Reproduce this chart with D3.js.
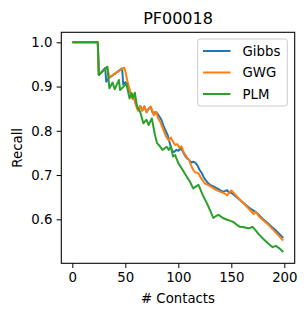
<!DOCTYPE html>
<html>
<head>
<meta charset="utf-8">
<script src="https://cdn.jsdelivr.net/npm/d3@7"></script>
<style>
  body { margin: 0; background: white; }
  text { font-family: "DejaVu Sans", sans-serif; }
</style>
</head>
<body>
<div id="graph"></div>
<script>
// recall vs number of contacts
const gibbs = [[0,1.0],[24,1.0],[25,0.926],[31,0.942],[32,0.911],[34,0.918],[36,0.922],[47,0.941],[48,0.905],[50,0.91],[52,0.905],
  [55,0.885],[57,0.872],[58,0.876],[60,0.86],[62,0.847],[64,0.856],[66,0.846],[68,0.855],[70,0.842],[72,0.85],[74,0.853],[76,0.84],
  [78,0.842],[80,0.84],[82,0.833],[84,0.825],[86,0.812],[88,0.8],[90,0.79],[92,0.772],[94,0.755],[96,0.752],[98,0.757],[100,0.755],
  [102,0.76],[104,0.755],[106,0.745],[108,0.738],[110,0.735],[112,0.728],[114,0.73],[116,0.728],[118,0.722],[120,0.712],[122,0.705],
  [124,0.695],[126,0.688],[128,0.682],[130,0.678],[134,0.673],[138,0.668],[142,0.662],[146,0.666],[148,0.66],[150,0.66],[152,0.656],
  [156,0.648],[160,0.64],[164,0.632],[168,0.624],[172,0.618],[176,0.61],[180,0.6],[184,0.592],[188,0.583],[192,0.575],[196,0.565],[199,0.558]];

const gwg = [[0,1.0],[24,1.0],[25,0.926],[33,0.944],[35,0.921],[49,0.943],[50,0.935],[52,0.912],[55,0.885],[57,0.872],[58,0.876],
  [60,0.858],[62,0.845],[64,0.856],[66,0.846],[68,0.855],[70,0.842],[72,0.85],[74,0.855],[77,0.835],[79,0.843],[81,0.828],[83,0.82],
  [85,0.808],[87,0.795],[89,0.785],[91,0.778],[93,0.785],[95,0.775],[97,0.768],[99,0.77],[101,0.762],[103,0.765],[105,0.752],[108,0.74],
  [110,0.735],[112,0.722],[114,0.712],[116,0.706],[119,0.704],[121,0.695],[123,0.688],[125,0.681],[128,0.678],[132,0.672],[136,0.666],
  [140,0.662],[144,0.658],[146,0.654],[148,0.66],[150,0.665],[152,0.66],[156,0.65],[160,0.64],[164,0.63],[168,0.62],[171,0.612],
  [173,0.617],[176,0.607],[180,0.598],[184,0.59],[188,0.58],[192,0.57],[196,0.56],[199,0.552]];

const plm = [[0,1.0],[24,1.0],[25,0.926],[33,0.945],[35,0.896],[38,0.909],[40,0.894],[44,0.915],[45,0.892],[51,0.907],[54,0.873],
  [56,0.885],[57,0.875],[59,0.886],[61,0.855],[64,0.843],[67,0.817],[70,0.825],[72,0.813],[75,0.828],[78,0.79],[80,0.772],[83,0.764],
  [85,0.757],[89,0.764],[91,0.757],[93,0.765],[95,0.742],[97,0.745],[100,0.727],[104,0.712],[108,0.696],[111,0.685],[114,0.67],
  [117,0.675],[119,0.678],[123,0.655],[127,0.636],[130,0.62],[133,0.603],[136,0.608],[138,0.61],[142,0.603],[146,0.599],[150,0.596],
  [152,0.594],[155,0.588],[158,0.583],[162,0.582],[166,0.58],[168,0.581],[170,0.583],[173,0.575],[176,0.566],[180,0.556],[184,0.547],
  [187,0.541],[189,0.537],[192,0.54],[195,0.535],[199,0.526]];

const seriesNames = ["Gibbs", "GWG", "PLM"];
const seriesColors = ["#1f77b4", "#ff7f0e", "#2ca02c"];
const xTicks = [0, 50, 100, 150, 200];
const yTicks = [0.6, 0.7, 0.8, 0.9, 1.0];

const width = 307, height = 316;
const margin = {left: 61.3, right: 12.3, top: 32.3, bottom: 52.7};
const tick = 4.67;

let svg = d3.select("#graph")
    .append("svg")
    .attr("width", width)
    .attr("height", height);

let x = d3.scaleLinear()
    .domain([-10.4, 209.8])
    .range([margin.left, width - margin.right]);

let y = d3.scaleLinear()
    .domain([0.5006, 1.0226])
    .range([height - margin.bottom, margin.top]);

let xAxis = svg.append("g")
    .attr("transform", `translate(0, ${height - margin.bottom})`)
    .call(d3.axisBottom(x).tickValues(xTicks).tickSize(tick).tickPadding(4.2).tickFormat(d3.format("d")));

let yAxis = svg.append("g")
    .attr("transform", `translate(${margin.left}, 0)`)
    .call(d3.axisLeft(y).tickValues(yTicks).tickSize(tick).tickPadding(4.2).tickFormat(d3.format(".1f")));

[xAxis, yAxis].forEach(function(a) {
    a.select(".domain").remove();
    a.selectAll("line").attr("stroke", "black").attr("stroke-width", 1);
    a.selectAll("text")
        .attr("fill", "black")
        .style("font-size", "13.3px")
        .style("font-family", "DejaVu Sans");
});

let line = d3.line()
    .x(function(d) { return x(d[0]); })
    .y(function(d) { return y(d[1]); });

[gibbs, gwg, plm].forEach(function(data, i) {
    svg.append("path")
        .datum(data)
        .attr("fill", "none")
        .attr("stroke", seriesColors[i])
        .attr("stroke-width", 2)
        .attr("stroke-linejoin", "round")
        .attr("d", line);
});

// frame
svg.append("rect")
    .attr("x", margin.left)
    .attr("y", margin.top)
    .attr("width", width - margin.left - margin.right)
    .attr("height", height - margin.top - margin.bottom)
    .attr("fill", "none")
    .attr("stroke", "black")
    .attr("stroke-width", 1.07);

// legend
let legend = svg.append("g");
legend.append("rect")
    .attr("x", 197.7)
    .attr("y", 39)
    .attr("width", 89.6)
    .attr("height", 67)
    .attr("rx", 2.5)
    .attr("fill", "white")
    .attr("fill-opacity", 0.8)
    .attr("stroke", "#cccccc")
    .attr("stroke-width", 1);

seriesNames.forEach(function(name, i) {
    let yy = 51 + i * 21.5;
    legend.append("line")
        .attr("x1", 203)
        .attr("x2", 230.5)
        .attr("y1", yy)
        .attr("y2", yy)
        .attr("stroke", seriesColors[i])
        .attr("stroke-width", 2);
    legend.append("text")
        .attr("x", 242.5)
        .attr("y", yy + 4.8)
        .style("font-size", "13.3px")
        .text(name);
});

svg.append("text")
    .attr("x", (margin.left + width - margin.right) / 2)
    .attr("y", 24.3)
    .style("text-anchor", "middle")
    .style("font-size", "16px")
    .text("PF00018");

svg.append("text")
    .attr("x", (margin.left + width - margin.right) / 2)
    .attr("y", 303)
    .style("text-anchor", "middle")
    .style("font-size", "13.3px")
    .text("# Contacts");

svg.append("text")
    .attr("transform", `translate(21.5, ${(margin.top + height - margin.bottom) / 2})rotate(-90)`)
    .style("text-anchor", "middle")
    .style("font-size", "13.3px")
    .text("Recall");
</script>
</body>
</html>
